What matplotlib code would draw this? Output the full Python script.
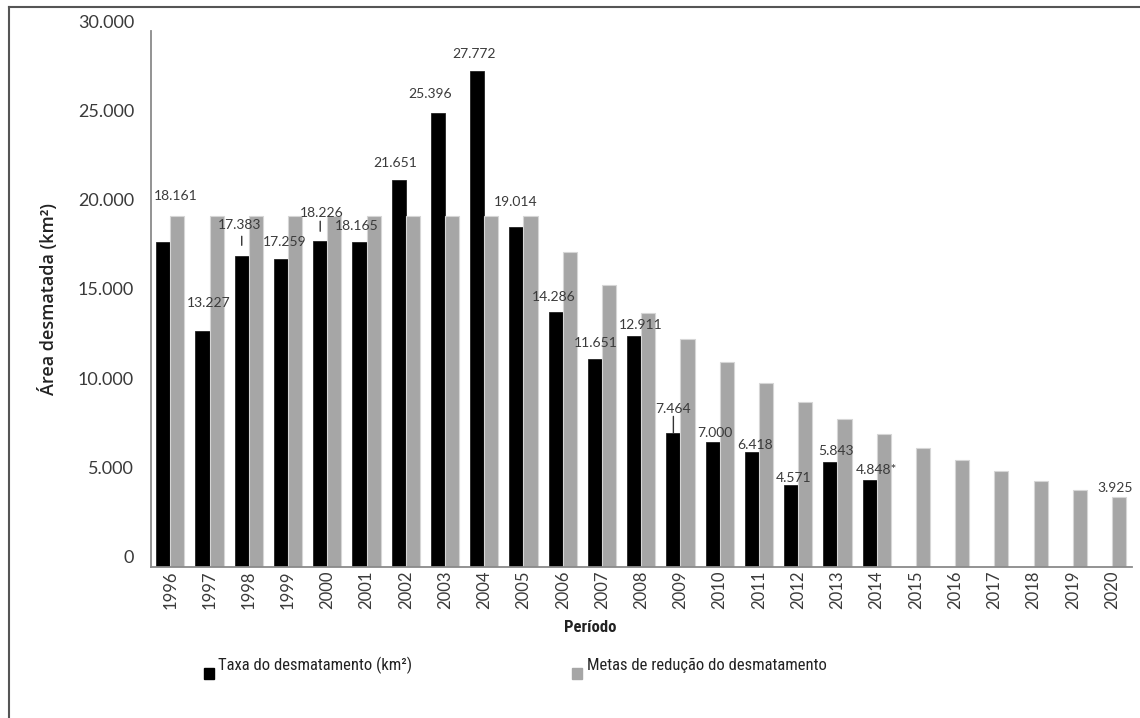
import matplotlib
matplotlib.use('Agg')
import matplotlib.pyplot as plt
import matplotlib.transforms as mtransforms
from matplotlib.lines import Line2D
from matplotlib.patches import Rectangle
import numpy as np

# dados
anos = [str(a) for a in range(1996, 2021)]
taxa = [18161, 13227, 17383, 17259, 18226, 18165, 21651, 25396, 27772, 19014,
        14286, 11651, 12911, 7464, 7000, 6418, 4571, 5843, 4848]
metas = [19625, 19625, 19625, 19625, 19625, 19625, 19625, 19625, 19625, 19625,
         17620, 15790, 14190, 12730, 11440, 10270, 9220, 8270, 7430,
         6650, 5970, 5360, 4820, 4310, 3925]
rotulos_taxa = ['18.161', '13.227', '17.383', '17.259', '18.226', '18.165', '21.651',
                '25.396', '27.772', '19.014', '14.286', '11.651', '12.911', '7.464',
                '7.000', '6.418', '4.571', '5.843', '4.848*']
yticks = [0, 5000, 10000, 15000, 20000, 25000, 30000]
ytick_labels = ['0', '5.000', '10.000', '15.000', '20.000', '25.000', '30.000']

# deslocamento dos rotulos (pixels) em relacao ao topo da barra preta
desloc = [(12, 46), (6, 28), (-2, 31), (4, 17), (2, 28), (-3, 16), (-3, 17),
          (-8, 19), (-3, 17), (-1, 25), (-2, 15), (1, 16), (7, 11), (0, 24),
          (2, 9), (3, 7), (3, 7), (6, 11), (7, 10)]
# linhas guia (inicio, fim acima do topo, pixels)
guias = {2: (11, 20), 4: (10, 20), 13: (0, 17)}

fonte_num = ['Lato', 'DejaVu Sans']
fonte_txt = ['Roboto Condensed', 'Open Sans', 'DejaVu Sans']

W, H = 1140, 718
fig = plt.figure(figsize=(W / 100, H / 100), dpi=100)
ax = fig.add_axes([150.7 / W, 1 - 566.7 / H, 981 / W, 535.7 / H])

x = np.arange(len(anos))
larg = 0.36
ax.bar(x[:len(taxa)] - larg / 2, taxa, larg, color='black', edgecolor='#222222', linewidth=0.6)
ax.bar(x + larg / 2, metas, larg, color='#a6a6a6', edgecolor='#d6d6d6', linewidth=0.8)

ax.set_xlim(-0.5, len(anos) - 0.5)
ax.set_ylim(0, 30000)
for s in ['top', 'right']:
    ax.spines[s].set_visible(False)
for s in ['left', 'bottom']:
    ax.spines[s].set_color('#8a8a8a')
    ax.spines[s].set_linewidth(1.3)

ax.set_yticks(yticks)
ax.set_yticklabels(ytick_labels, fontsize=13, color='#3a3a3a', family=fonte_num)
ax.set_xticks(x)
ax.set_xticklabels(anos, rotation=90, fontsize=12, color='#3a3a3a', family=fonte_num)
ax.tick_params(axis='both', length=0)
ax.tick_params(axis='y', pad=12)
ax.tick_params(axis='x', pad=3)
off = mtransforms.ScaledTranslation(0, 10 / 100, fig.dpi_scale_trans)
for lab in ax.get_yticklabels():
    lab.set_transform(lab.get_transform() + off)

for i, v in enumerate(taxa):
    dx, dy = desloc[i]
    ax.annotate(rotulos_taxa[i], (x[i] - larg / 2, v), xytext=(dx, dy),
                textcoords='offset pixels', ha='center', va='center',
                fontsize=10, color='#3a3a3a', family=fonte_num)
    if i in guias:
        a, b = guias[i]
        # linha vertical curta entre rotulo e barra (shrink em pontos)
        ax.annotate('', (x[i] - larg / 2, v), xytext=(0, b), textcoords='offset pixels',
                    arrowprops=dict(arrowstyle='-', color='#333333', lw=1,
                                    shrinkA=0, shrinkB=a * 0.72))
ax.annotate('3.925', (x[-1] + larg / 2, metas[-1]), xytext=(-4, 9),
            textcoords='offset pixels', ha='center', va='center',
            fontsize=10, color='#3a3a3a', family=fonte_num)

ax.set_ylabel('Área desmatada (km²)', fontsize=13, color='#222222',
              family='Open Sans', fontweight='semibold', labelpad=14)
fig.text(590 / W, 1 - 628 / H, 'Período', ha='center', va='center',
         fontsize=12, color='#222222', family=fonte_txt, fontweight='semibold')

# legenda
fig.patches.append(Rectangle((204 / W, 1 - 679 / H), 10 / W, 11 / H,
                             transform=fig.transFigure, color='black'))
fig.text(218 / W, 1 - 665 / H, 'Taxa do desmatamento (km²)', ha='left', va='center',
         fontsize=12, color='#222222', family=fonte_txt)
fig.patches.append(Rectangle((572 / W, 1 - 679 / H), 10 / W, 11 / H,
                             transform=fig.transFigure, color='#a6a6a6'))
fig.text(587 / W, 1 - 665 / H, 'Metas de redução do desmatamento', ha='left', va='center',
         fontsize=12, color='#222222', family=fonte_txt)

# moldura
fig.add_artist(Line2D([9 / W, 1], [1 - 7 / H, 1 - 7 / H], transform=fig.transFigure,
                      color='#555555', lw=1.5))
fig.add_artist(Line2D([9 / W, 9 / W], [0, 1 - 7 / H], transform=fig.transFigure,
                      color='#555555', lw=1.5))

fig.savefig('out.png', dpi=100)
